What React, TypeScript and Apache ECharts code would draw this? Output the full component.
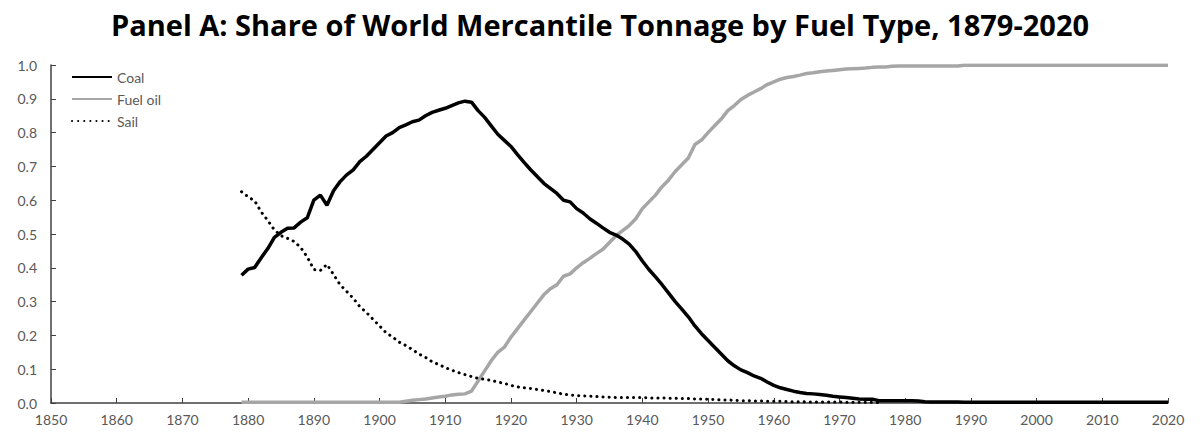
import React, { useEffect, useRef } from "react";
import * as echarts from "echarts";

const startYear = 1879;
const endYear = 2020;

const coal: number[] = [
  0.378, 0.396, 0.401, 0.43, 0.457, 0.49, 0.505, 0.517, 0.518, 0.535, // 1879-1888
  0.548, 0.6, 0.615, 0.585, 0.628, 0.655, 0.675, 0.69, 0.714, 0.73, // 1889-1898
  0.75, 0.77, 0.79, 0.8, 0.815, 0.823, 0.832, 0.837, 0.85, 0.86, // 1899-1908
  0.866, 0.872, 0.88, 0.888, 0.893, 0.89, 0.865, 0.845, 0.82, 0.795, // 1909-1918
  0.777, 0.759, 0.735, 0.712, 0.69, 0.67, 0.65, 0.635, 0.62, 0.6, // 1919-1928
  0.595, 0.575, 0.562, 0.545, 0.532, 0.518, 0.505, 0.497, 0.485, 0.47, // 1929-1938
  0.448, 0.42, 0.395, 0.373, 0.35, 0.325, 0.3, 0.278, 0.255, 0.228, // 1939-1948
  0.205, 0.185, 0.165, 0.145, 0.125, 0.11, 0.098, 0.09, 0.08, 0.073, // 1949-1958
  0.062, 0.052, 0.045, 0.04, 0.035, 0.031, 0.028, 0.027, 0.025, 0.023, // 1959-1968
  0.02, 0.018, 0.016, 0.014, 0.012, 0.011, 0.011, 0.007, 0.007, 0.007, // 1969-1978
  0.007, 0.007, 0.007, 0.006, 0.004, 0.003, 0.003, 0.003, 0.003, 0.003, // 1979-1988
  0.002, 0.002, 0.002, 0.002, 0.002, 0.002, 0.002, 0.002, 0.002, 0.002, // 1989-1998
  0.002, 0.002, 0.002, 0.002, 0.002, 0.002, 0.002, 0.002, 0.002, 0.002, // 1999-2008
  0.002, 0.002, 0.002, 0.002, 0.002, 0.002, 0.002, 0.002, 0.002, 0.002, // 2009-2018
  0.002, 0.002, // 2019-2020
];

const fuelOil: number[] = [
  0.002, 0.002, 0.002, 0.002, 0.002, 0.002, 0.002, 0.002, 0.002, 0.002, // 1879-1888
  0.002, 0.002, 0.002, 0.002, 0.002, 0.002, 0.002, 0.002, 0.002, 0.002, // 1889-1898
  0.002, 0.002, 0.002, 0.002, 0.002, 0.005, 0.008, 0.01, 0.012, 0.015, // 1899-1908
  0.018, 0.02, 0.024, 0.026, 0.027, 0.035, 0.065, 0.095, 0.125, 0.15, // 1909-1918
  0.165, 0.195, 0.22, 0.245, 0.27, 0.295, 0.32, 0.338, 0.35, 0.375, // 1919-1928
  0.382, 0.4, 0.415, 0.428, 0.442, 0.455, 0.475, 0.495, 0.51, 0.525, // 1929-1938
  0.545, 0.575, 0.595, 0.615, 0.64, 0.66, 0.685, 0.705, 0.725, 0.765, // 1939-1948
  0.778, 0.8, 0.82, 0.84, 0.865, 0.88, 0.898, 0.91, 0.92, 0.93, // 1949-1958
  0.942, 0.95, 0.958, 0.963, 0.966, 0.97, 0.975, 0.977, 0.98, 0.982, // 1959-1968
  0.984, 0.986, 0.988, 0.989, 0.99, 0.991, 0.993, 0.994, 0.994, 0.996, // 1969-1978
  0.997, 0.997, 0.997, 0.997, 0.997, 0.997, 0.997, 0.997, 0.997, 0.997, // 1979-1988
  0.999, 0.999, 0.999, 0.999, 0.999, 0.999, 0.999, 0.999, 0.999, 0.999, // 1989-1998
  0.999, 0.999, 0.999, 0.999, 0.999, 0.999, 0.999, 0.999, 0.999, 0.999, // 1999-2008
  0.999, 0.999, 0.999, 0.999, 0.999, 0.999, 0.999, 0.999, 0.999, 0.999, // 2009-2018
  0.999, 0.999, // 2019-2020
];

const sail: number[] = [
  0.625, 0.61, 0.598, 0.565, 0.54, 0.512, 0.495, 0.487, 0.478, 0.46, // 1879-1888
  0.432, 0.395, 0.392, 0.41, 0.38, 0.35, 0.33, 0.31, 0.285, 0.268, // 1889-1898
  0.248, 0.228, 0.208, 0.195, 0.18, 0.17, 0.158, 0.145, 0.135, 0.122, // 1899-1908
  0.114, 0.105, 0.097, 0.09, 0.084, 0.078, 0.073, 0.07, 0.067, 0.062, // 1909-1918
  0.058, 0.052, 0.048, 0.045, 0.043, 0.04, 0.037, 0.034, 0.03, 0.026, // 1919-1928
  0.024, 0.022, 0.021, 0.02, 0.019, 0.018, 0.017, 0.016, 0.016, 0.016, // 1929-1938
  0.016, 0.016, 0.015, 0.015, 0.015, 0.014, 0.014, 0.013, 0.013, 0.012, // 1939-1948
  0.012, 0.011, 0.01, 0.009, 0.009, 0.008, 0.007, 0.007, 0.006, 0.006, // 1949-1958
  0.005, 0.005, 0.005, 0.004, 0.004, 0.004, 0.003, 0.003, 0.003, 0.003, // 1959-1968
  0.003, 0.003, 0.002, 0.002, 0.002, 0.002, 0.002, 0.001, // 1969-1976
];

const xTicks = { min: 1850, max: 2020, interval: 10 };
const yTicks = { min: 0, max: 1, interval: 0.1 };

const toPairs = (vals: number[]) => vals.map((v, i) => [startYear + i, v]);

export default function App() {
  const ref = useRef<HTMLDivElement>(null);
  useEffect(() => {
    if (!ref.current) return;
    const chart = echarts.init(ref.current, undefined, { renderer: "svg" });
    const axisFont = "Lato, 'Noto Sans', sans-serif";
    chart.setOption({
      animation: false,
      backgroundColor: "#ffffff",
      title: {
        text: "Panel A: Share of World Mercantile Tonnage by Fuel Type, 1879-" + endYear,
        left: "center",
        top: 5,
        textStyle: {
          fontFamily: "'Open Sans', 'Noto Sans', sans-serif",
          fontWeight: "bold",
          fontSize: 29,
          color: "#000000",
        },
      },
      legend: {
        orient: "vertical",
        left: 66,
        top: 65,
        itemWidth: 40,
        itemHeight: 14,
        itemGap: 8,
        itemStyle: { opacity: 0 },
        textStyle: { fontFamily: axisFont, fontSize: 14, color: "#595959" },
        data: ["Coal", "Fuel oil", "Sail"],
      },
      grid: { left: 51, right: 32, top: 65, bottom: 41, containLabel: false },
      xAxis: {
        type: "value",
        min: xTicks.min,
        max: xTicks.max,
        interval: xTicks.interval,
        axisLine: { show: true, lineStyle: { color: "#404040", width: 1.5 } },
        axisTick: { show: true, inside: true, length: 5, lineStyle: { color: "#404040", width: 1 } },
        axisLabel: { fontFamily: axisFont, fontSize: 14, color: "#595959", margin: 9, formatter: (v: number) => String(v) },
        splitLine: { show: false },
      },
      yAxis: {
        type: "value",
        min: yTicks.min,
        max: yTicks.max,
        interval: yTicks.interval,
        axisLine: { show: true, lineStyle: { color: "#404040", width: 1.5 } },
        axisTick: { show: true, inside: true, length: 5, lineStyle: { color: "#404040", width: 1 } },
        axisLabel: { fontFamily: axisFont, fontSize: 14, color: "#595959", margin: 14, formatter: (v: number) => v.toFixed(1) },
        splitLine: { show: false },
      },
      series: [
        {
          name: "Coal",
          type: "line",
          data: toPairs(coal),
          showSymbol: false,
          symbol: "none",
          lineStyle: { color: "#000000", width: 3.5 },
          itemStyle: { color: "#000000" },
          z: 3,
        },
        {
          name: "Fuel oil",
          type: "line",
          data: toPairs(fuelOil),
          showSymbol: false,
          symbol: "none",
          lineStyle: { color: "#a6a6a6", width: 3.5 },
          itemStyle: { color: "#a6a6a6" },
          z: 2,
        },
        {
          name: "Sail",
          type: "line",
          data: toPairs(sail),
          showSymbol: false,
          symbol: "none",
          lineStyle: { color: "#000000", width: 3, type: [0.1, 6], cap: "round" },
          itemStyle: { color: "#000000" },
          z: 4,
        },
      ],
    });
    return () => chart.dispose();
  }, []);
  return (
    <div
      ref={ref}
      style={{ position: "fixed", left: 0, top: 0, width: 1200, height: 444 }}
    />
  );
}
